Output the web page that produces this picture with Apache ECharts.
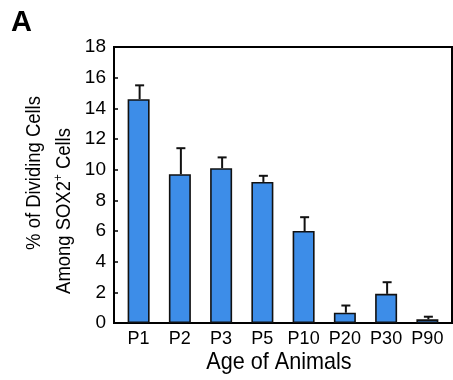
<!DOCTYPE html>
<html>
<head>
<meta charset="utf-8">
<script src="https://cdn.jsdelivr.net/npm/echarts@6/dist/echarts.min.js"></script>
<style>html,body{margin:0;padding:0;background:#fff}#c{width:453px;height:380px}</style>
</head>
<body>
<div id="c"></div>
<script>
const categories = ['P1', 'P2', 'P3', 'P5', 'P10', 'P20', 'P30', 'P90'];
const values = [14.6, 9.7, 10.1, 9.2, 6.0, 0.67, 1.9, 0.24];
const errors = [0.9, 1.7, 0.7, 0.4, 0.9, 0.47, 0.76, 0.17];
const yTicks = [0, 2, 4, 6, 8, 10, 12, 14, 16, 18];

const FONT = "'Liberation Sans', Arial, Helvetica, sans-serif";

const errData = values.map((v, i) => [i, v, v + errors[i]]);

const chart = echarts.init(document.getElementById('c'), null, {renderer: 'canvas'});
chart.setOption({
  animation: false,
  backgroundColor: '#fff',
  grid: [
    {left: 114, right: 1, top: 47, bottom: 57, show: true, borderColor: '#000', borderWidth: 2, backgroundColor: 'transparent'},
    {left: 118, right: 5, top: 47, bottom: 57}
  ],
  xAxis: [
    {gridIndex: 0, type: 'value', min: 0, max: 1, show: false},
    {gridIndex: 1, type: 'category', data: categories,
     axisLine: {show: false}, axisTick: {show: false},
     axisLabel: {interval: 0, color: '#000', fontFamily: FONT, fontSize: 18, margin: 7}}
  ],
  yAxis: [
    {gridIndex: 0, type: 'value', min: 0, max: 18, interval: 2,
     axisLine: {show: true, lineStyle: {color: '#000', width: 2}},
     axisTick: {show: true, inside: true, length: 4, lineStyle: {color: '#000', width: 1.5}},
     splitLine: {show: false},
     axisLabel: {color: '#000', fontFamily: FONT, fontSize: 19, margin: 8,
       formatter: v => yTicks.indexOf(v) >= 0 ? String(v) : ''}},
    {gridIndex: 1, type: 'value', min: 0, max: 18, show: false}
  ],
  series: [
    {type: 'bar', xAxisIndex: 1, yAxisIndex: 1, data: values, barWidth: 22,
     itemStyle: {color: '#3d8de8', borderColor: '#111', borderWidth: 1.6}, z: 2},
    {type: 'custom', xAxisIndex: 1, yAxisIndex: 1, data: errData, z: 3,
     renderItem: function (params, api) {
       const top = api.coord([api.value(0), api.value(2)]);
       const base = api.coord([api.value(0), api.value(1)]);
       const hw = 4.5;
       return {type: 'group', children: [
         {type: 'line', shape: {x1: top[0] + 1, y1: base[1], x2: top[0] + 1, y2: top[1]}, style: {stroke: '#111', lineWidth: 2}},
         {type: 'line', shape: {x1: top[0] + 1 - hw, y1: top[1], x2: top[0] + 1 + hw, y2: top[1]}, style: {stroke: '#111', lineWidth: 2}}
       ]};
     }}
  ],
  graphic: [
    {type: 'text', left: 11, top: 8, style: {text: 'A', font: "bold 29px " + FONT, fill: '#000'}},
    {type: 'text', x: 279, y: 362, scaleX: 0.9, style: {text: 'Age of Animals', font: "24px " + FONT, fill: '#000', textAlign: 'center', textVerticalAlign: 'middle'}},
    {type: 'text', x: 34, y: 173, rotation: Math.PI / 2, scaleX: 0.9,
     style: {text: '% of Dividing Cells', font: "20.5px " + FONT, fill: '#000', textAlign: 'center', textVerticalAlign: 'middle'}},
    {type: 'text', x: 64, y: 211, rotation: Math.PI / 2, scaleX: 0.9,
     style: {text: '{n|Among SOX2}{s|+}{n| Cells}', fill: '#000', textAlign: 'center', textVerticalAlign: 'middle',
       rich: {n: {fontFamily: FONT, fontSize: 20.5, fill: '#000', lineHeight: 24},
              s: {fontFamily: FONT, fontSize: 13, fill: '#000', verticalAlign: 'top', lineHeight: 24}}}}
  ]
});
</script>
</body>
</html>
